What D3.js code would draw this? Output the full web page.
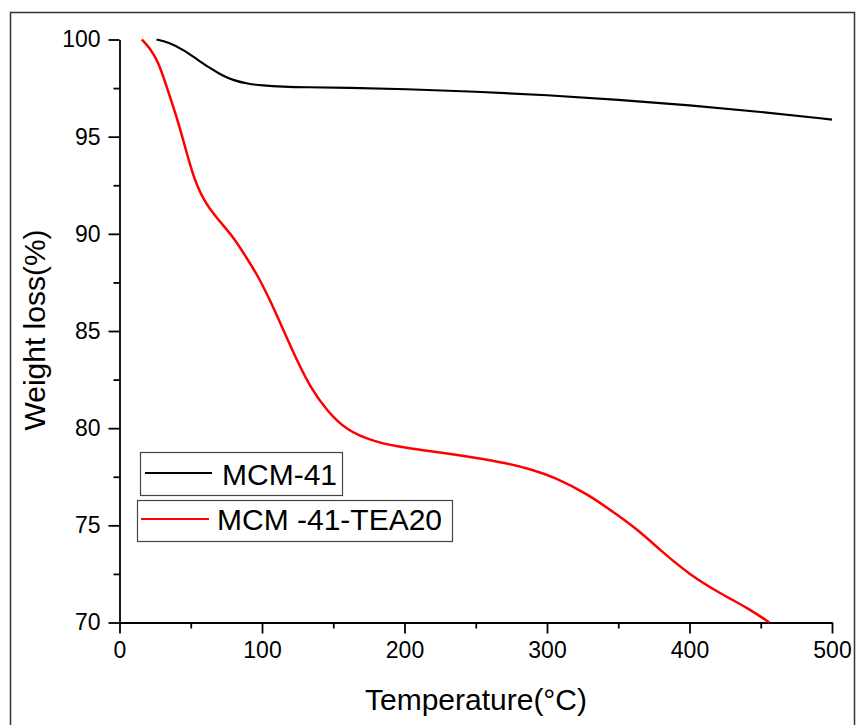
<!DOCTYPE html>
<meta charset="utf-8">
<style>
  body { margin: 0; background: #fff; }
  text { font-family: "Liberation Sans", Arial, sans-serif; fill: #000; }
  .axis path, .axis line { stroke: #000; stroke-width: 1.8px; }
</style>
<svg width="856" height="725"></svg>
<script src="https://cdn.jsdelivr.net/npm/d3@7/dist/d3.min.js"></script>
<script>
  // MCM-41 (black)
  var tempMcm = [26, 35, 45, 55, 63, 72, 80, 90, 100, 115, 130, 160, 200, 250, 300, 350, 400, 450, 500];
  var weightMcm = [100, 99.85, 99.46, 98.95, 98.55, 98.15, 97.9, 97.72, 97.63, 97.57, 97.54, 97.52, 97.45, 97.32, 97.14, 96.9, 96.62, 96.28, 95.88];
  // MCM-41-TEA20 (red)
  var tempTea = [15.6, 21.4, 27.2, 33.1, 40.1, 46, 51.8, 58.8, 68.2, 79.9, 89.3, 96.3, 105.6, 115, 124.4, 133.7, 145.4, 159.4, 178.1, 201.5, 224.9, 248.3, 271.7, 290.4, 304.4, 327.9, 351.2, 365.3, 379.3, 400.4, 421.4, 442.5, 456];
  var weightTea = [100, 99.55, 98.86, 97.57, 96.03, 94.48, 92.94, 91.74, 90.8, 89.86, 88.74, 87.95, 86.6, 85.05, 83.5, 82.13, 80.9, 79.88, 79.31, 78.97, 78.76, 78.5, 78.2, 77.85, 77.5, 76.65, 75.44, 74.67, 73.73, 72.44, 71.5, 70.68, 70.0];

  var xTicks = [0, 100, 200, 300, 400, 500];
  var xMinor = [50, 150, 250, 350, 450];
  var yTicks = [70, 75, 80, 85, 90, 95, 100];
  var yMinor = [72.5, 77.5, 82.5, 87.5, 92.5, 97.5];

  var seriesNames = ["MCM-41", "MCM -41-TEA20"];

  var svg = d3.select("svg");

  // outer frame
  svg.append("rect")
    .attr("x", 10.5).attr("y", 12.5)
    .attr("width", 844).attr("height", 730)
    .attr("fill", "none")
    .attr("stroke", "#333")
    .attr("stroke-width", 1.5);

  var x = d3.scaleLinear().domain([0, 500]).range([119.5, 832]);
  var y = d3.scaleLinear().domain([70, 100]).range([622.5, 39.5]);

  // minor ticks
  svg.append("g").attr("class", "axis")
    .attr("transform", "translate(0,622.5)")
    .call(d3.axisBottom(x).tickValues(xMinor).tickSize(6).tickFormat(""))
    .select(".domain").remove();
  svg.append("g").attr("class", "axis")
    .attr("transform", "translate(119.5,0)")
    .call(d3.axisLeft(y).tickValues(yMinor).tickSize(6).tickFormat(""))
    .select(".domain").remove();

  // major axes
  var xAxis = svg.append("g").attr("class", "axis")
    .attr("transform", "translate(0,622.5)")
    .call(d3.axisBottom(x).tickValues(xTicks).tickSize(11).tickSizeOuter(0).tickPadding(8));
  var yAxis = svg.append("g").attr("class", "axis")
    .attr("transform", "translate(119.5,0)")
    .call(d3.axisLeft(y).tickValues(yTicks).tickSize(11).tickSizeOuter(0).tickPadding(8));
  xAxis.attr("font-size", 23).attr("font-family", null);
  yAxis.attr("font-size", 23).attr("font-family", null);

  // axis titles
  svg.append("text")
    .attr("x", 476).attr("y", 710)
    .attr("text-anchor", "middle")
    .attr("font-size", 30)
    .text("Temperature(°C)");
  svg.append("text")
    .attr("transform", "translate(45,330) rotate(-90)")
    .attr("text-anchor", "middle")
    .attr("font-size", 30)
    .text("Weight loss(%)");

  // lines
  var line = d3.line()
    .x(function(d) { return x(d[0]); })
    .y(function(d) { return y(d[1]); })
    .curve(d3.curveBasis);

  svg.append("path")
    .datum(d3.zip(tempMcm, weightMcm))
    .attr("d", line)
    .attr("fill", "none")
    .attr("stroke", "#000")
    .attr("stroke-width", 2.2);

  svg.append("path")
    .datum(d3.zip(tempTea, weightTea))
    .attr("d", line)
    .attr("fill", "none")
    .attr("stroke", "#ff0000")
    .attr("stroke-width", 2.5);

  // legend (two separate boxes)
  var legend = [
    { name: seriesNames[0], color: "#000", bx: 140.5, by: 452.5, bw: 202, bh: 43, lx1: 145, lx2: 212, ly: 473, tx: 222, ty: 485 },
    { name: seriesNames[1], color: "#ff0000", bx: 137.5, by: 500.5, bw: 315, bh: 41, lx1: 141, lx2: 209, ly: 519, tx: 217, ty: 530 }
  ];
  legend.forEach(function(d) {
    svg.append("rect")
      .attr("x", d.bx).attr("y", d.by)
      .attr("width", d.bw).attr("height", d.bh)
      .attr("fill", "#fff")
      .attr("stroke", "#444")
      .attr("stroke-width", 1.2);
    svg.append("line")
      .attr("x1", d.lx1).attr("x2", d.lx2)
      .attr("y1", d.ly).attr("y2", d.ly)
      .attr("stroke", d.color)
      .attr("stroke-width", 2);
    svg.append("text")
      .attr("x", d.tx).attr("y", d.ty)
      .attr("font-size", 30)
      .text(d.name);
  });
</script>
